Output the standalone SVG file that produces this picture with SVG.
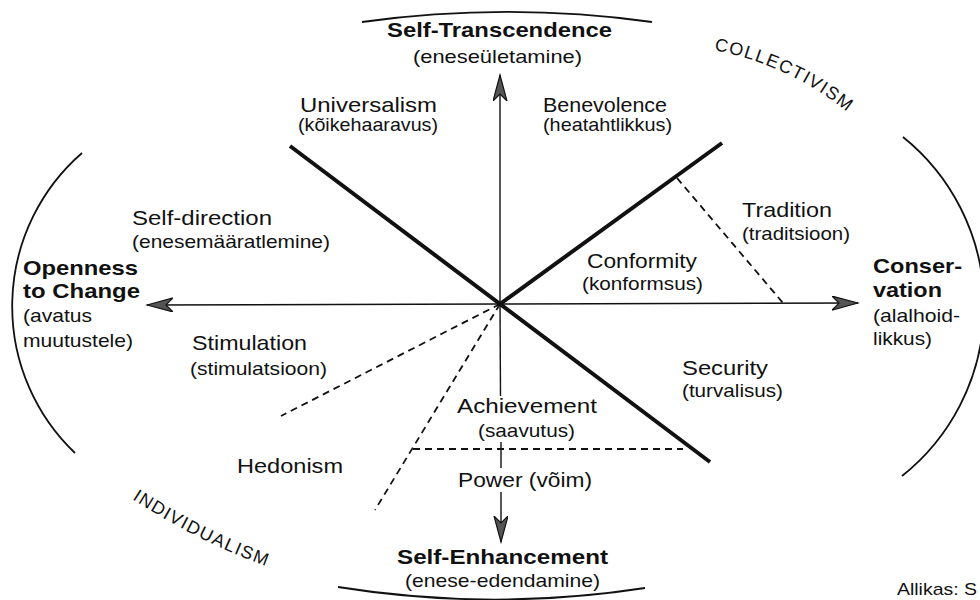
<svg xmlns="http://www.w3.org/2000/svg" width="980" height="600" viewBox="0 0 980 600">
<style>
text{font-family:"Liberation Sans",Arial,sans-serif;fill:#111}
.t{font-size:21px}
.s{font-size:19px}
.b{font-size:21px;font-weight:bold}
.c{font-size:18px}
.axis{stroke:#111;stroke-width:1.4;fill:none}
.thick{stroke:#111;stroke-width:4;fill:none;stroke-linecap:butt}
.dash{stroke:#111;stroke-width:1.8;fill:none;stroke-dasharray:7 5}
.arc{stroke:#111;stroke-width:1.8;fill:none}
</style>
<defs>
<marker id="ah" markerUnits="userSpaceOnUse" markerWidth="28" markerHeight="16" refX="26" refY="7" orient="auto">
<path d="M0,0 L26,7 L0,14 L7,7 Z" fill="#555" stroke="#111" stroke-width="1.2"/>
</marker>
<path id="pCol" d="M714,50 Q790,65 850,114"/>
<path id="pInd" d="M132,499 Q200,543 274,569"/>
</defs>
<rect width="980" height="600" fill="#fff"/>

<g id="arcs">
<path class="arc" d="M362,22 A1056,1056 0 0 1 652,22"/>
<path class="arc" d="M338,587 A990,990 0 0 0 645,588"/>
<path class="arc" d="M82,153 A203,203 0 0 0 75,453"/>
<path class="arc" d="M903,137 A217,217 0 0 1 902,476"/>
</g>

<g id="connectors">
<line class="axis" x1="500" y1="304" x2="500" y2="75" marker-end="url(#ah)"/>
<line class="axis" x1="500" y1="304" x2="147" y2="305" marker-end="url(#ah)"/>
<line class="axis" x1="500" y1="304" x2="858" y2="303" marker-end="url(#ah)"/>
<line class="axis" x1="500" y1="304" x2="500.5" y2="396"/>
<line class="axis" x1="501" y1="442" x2="501" y2="468"/>
<line class="axis" x1="501" y1="492" x2="501" y2="542" marker-end="url(#ah)"/>
<line class="thick" x1="290" y1="146" x2="710" y2="462"/>
<line class="thick" x1="500" y1="304" x2="722" y2="143"/>
<line class="dash" x1="677" y1="178" x2="783" y2="303"/>
<line class="dash" x1="500" y1="304" x2="281" y2="416"/>
<line class="dash" x1="500" y1="304" x2="375" y2="510"/>
<line class="dash" x1="413" y1="449" x2="683" y2="449"/>
</g>

<g id="self-transcendence">
<text class="b" x="387" y="37" textLength="225" lengthAdjust="spacingAndGlyphs">Self-Transcendence</text>
<text class="s" x="413" y="63" textLength="169" lengthAdjust="spacingAndGlyphs">(eneseületamine)</text>
</g>
<g id="universalism">
<text class="t" x="300" y="112" textLength="137" lengthAdjust="spacingAndGlyphs">Universalism</text>
<text class="s" x="298" y="131" textLength="140" lengthAdjust="spacingAndGlyphs">(kõikehaaravus)</text>
</g>
<g id="benevolence">
<text class="t" x="543" y="112" textLength="124" lengthAdjust="spacingAndGlyphs">Benevolence</text>
<text class="s" x="543" y="131" textLength="129" lengthAdjust="spacingAndGlyphs">(heatahtlikkus)</text>
</g>
<g id="self-direction">
<text class="t" x="132" y="225" textLength="140" lengthAdjust="spacingAndGlyphs">Self-direction</text>
<text class="s" x="132" y="248" textLength="198" lengthAdjust="spacingAndGlyphs">(enesemääratlemine)</text>
</g>
<g id="openness">
<text class="b" x="23" y="275" textLength="115" lengthAdjust="spacingAndGlyphs">Openness</text>
<text class="b" x="23" y="298" textLength="117" lengthAdjust="spacingAndGlyphs">to Change</text>
<text class="s" x="23" y="322" textLength="69" lengthAdjust="spacingAndGlyphs">(avatus</text>
<text class="s" x="23" y="347" textLength="110" lengthAdjust="spacingAndGlyphs">muutustele)</text>
</g>
<g id="stimulation">
<text class="t" x="192" y="350" textLength="115" lengthAdjust="spacingAndGlyphs">Stimulation</text>
<text class="s" x="190" y="375" textLength="137" lengthAdjust="spacingAndGlyphs">(stimulatsioon)</text>
</g>
<g id="hedonism">
<text class="t" x="237" y="473" textLength="106" lengthAdjust="spacingAndGlyphs">Hedonism</text>
</g>
<g id="achievement">
<text class="t" x="457" y="413" textLength="140" lengthAdjust="spacingAndGlyphs">Achievement</text>
<text class="s" x="478" y="437" textLength="97" lengthAdjust="spacingAndGlyphs">(saavutus)</text>
</g>
<g id="power">
<text class="t" x="458" y="487" textLength="134" lengthAdjust="spacingAndGlyphs">Power (võim)</text>
</g>
<g id="self-enhancement">
<text class="b" x="397" y="564" textLength="211" lengthAdjust="spacingAndGlyphs">Self-Enhancement</text>
<text class="s" x="405" y="587" textLength="195" lengthAdjust="spacingAndGlyphs">(enese-edendamine)</text>
</g>
<g id="security">
<text class="t" x="682" y="375" textLength="86" lengthAdjust="spacingAndGlyphs">Security</text>
<text class="s" x="682" y="397" textLength="101" lengthAdjust="spacingAndGlyphs">(turvalisus)</text>
</g>
<g id="conformity">
<text class="t" x="587" y="268" textLength="110" lengthAdjust="spacingAndGlyphs">Conformity</text>
<text class="s" x="582" y="290" textLength="121" lengthAdjust="spacingAndGlyphs">(konformsus)</text>
</g>
<g id="tradition">
<text class="t" x="742" y="217" textLength="90" lengthAdjust="spacingAndGlyphs">Tradition</text>
<text class="s" x="742" y="240" textLength="108" lengthAdjust="spacingAndGlyphs">(traditsioon)</text>
</g>
<g id="conservation">
<text class="b" x="873" y="273" textLength="89" lengthAdjust="spacingAndGlyphs">Conser-</text>
<text class="b" x="873" y="297" textLength="69" lengthAdjust="spacingAndGlyphs">vation</text>
<text class="s" x="873" y="322" textLength="87" lengthAdjust="spacingAndGlyphs">(alalhoid-</text>
<text class="s" x="873" y="345" textLength="59" lengthAdjust="spacingAndGlyphs">likkus)</text>
</g>
<g id="collectivism">
<text class="c"><textPath href="#pCol" textLength="148" lengthAdjust="spacing">COLLECTIVISM</textPath></text>
</g>
<g id="individualism">
<text class="c"><textPath href="#pInd" textLength="150" lengthAdjust="spacing">INDIVIDUALISM</textPath></text>
</g>
<g id="source">
<text x="897" y="595" style="font-size:17px" textLength="80" lengthAdjust="spacingAndGlyphs">Allikas: S</text>
</g>
</svg>
